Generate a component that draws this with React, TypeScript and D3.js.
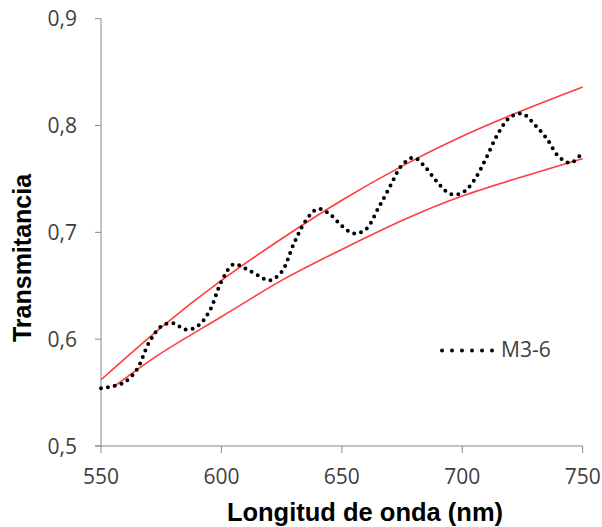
import * as d3 from "d3";

const wavelengths = [
  550, 555, 560, 565, 570, 575, 580, 585, 590, 595, 600, 605, 610, 615, 620,
  625, 630, 635, 640, 645, 650, 655, 660, 665, 670, 675, 680, 685, 690, 695,
  700, 705, 710, 715, 720, 725, 730, 735, 740, 745, 750,
];
const m36 = [
  0.554, 0.556, 0.56, 0.572, 0.597, 0.612, 0.615, 0.609, 0.612, 0.626, 0.654,
  0.67, 0.666, 0.66, 0.655, 0.663, 0.689, 0.711, 0.722, 0.717, 0.706, 0.699,
  0.703, 0.722, 0.743, 0.763, 0.77, 0.76, 0.746, 0.736, 0.737, 0.749, 0.77,
  0.793, 0.808, 0.811, 0.801, 0.788, 0.771, 0.765, 0.775,
];

// envelopes (red)
const upperWl = [550, 575, 600, 625, 650, 675, 700, 725, 750];
const upperT = [0.562, 0.611, 0.655, 0.694, 0.73, 0.762, 0.79, 0.814, 0.836];
const lowerWl = [555, 575, 600, 625, 650, 675, 700, 725, 750];
const lowerT = [0.555, 0.587, 0.621, 0.655, 0.684, 0.711, 0.734, 0.752, 0.769];

const xTicks = [550, 600, 650, 700, 750];
const yTicks = [0.5, 0.6, 0.7, 0.8, 0.9];
const seriesName = "M3-6";

const width = 602;
const height = 527;
const axisColor = "#898989";
const red = "#ff3d3d";
const labelFont = "'Open Sans', 'DejaVu Sans', sans-serif";

const App = () => {
  const x = d3.scaleLinear().domain([550, 750]).range([101, 582.7]);
  const y = d3.scaleLinear().domain([0.5, 0.9]).range([446, 18.7]);

  const line = d3
    .line<[number, number]>()
    .x((d) => x(d[0]))
    .y((d) => y(d[1]));

  const measured = line.curve(d3.curveCatmullRom.alpha(0.5))(
    wavelengths.map((w, i) => [w, m36[i]])
  );
  const upper = line.curve(d3.curveNatural)(
    upperWl.map((w, i) => [w, upperT[i]])
  );
  const lower = line.curve(d3.curveNatural)(
    lowerWl.map((w, i) => [w, lowerT[i]])
  );

  const fmt = (v: number) => v.toFixed(1).replace(".", ",");

  return (
    <svg
      width={width}
      height={height}
      style={{ position: "absolute", left: 0, top: 0, background: "#fff" }}
      fontFamily="'Liberation Sans', Arial, sans-serif"
    >
      {/* axes */}
      <line x1={x(550)} x2={x(550)} y1={y(0.9)} y2={y(0.5)} stroke={axisColor} />
      <line x1={x(550) - 6} x2={x(750)} y1={y(0.5)} y2={y(0.5)} stroke={axisColor} />
      {yTicks.map((t) => (
        <g key={t}>
          <line x1={x(550) - 6} x2={x(550)} y1={y(t)} y2={y(t)} stroke={axisColor} />
          <text
            x={77}
            y={y(t)}
            dy="0.36em"
            textAnchor="end"
            fontSize={21}
            fontFamily={labelFont}
            fill="#404040"
          >
            {fmt(t)}
          </text>
        </g>
      ))}
      {xTicks.map((t) => (
        <g key={t}>
          <line x1={x(t)} x2={x(t)} y1={y(0.5)} y2={y(0.5) + 7} stroke={axisColor} />
          <text
            x={x(t)}
            y={484}
            textAnchor="middle"
            fontSize={21}
            fontFamily={labelFont}
            fill="#404040"
          >
            {t}
          </text>
        </g>
      ))}

      {/* envelopes */}
      <path d={upper ?? ""} fill="none" stroke={red} strokeWidth={1.6} />
      <path d={lower ?? ""} fill="none" stroke={red} strokeWidth={1.6} />

      {/* measured */}
      <path
        d={measured ?? ""}
        fill="none"
        stroke="#000"
        strokeWidth={4}
        strokeLinecap="round"
        strokeDasharray="0 7"
      />

      {/* legend */}
      <line
        x1={442}
        x2={493}
        y1={350.5}
        y2={350.5}
        stroke="#000"
        strokeWidth={4}
        strokeLinecap="round"
        strokeDasharray="0 10"
      />
      <text
        x={501}
        y={357}
        fontSize={21}
        fontFamily={labelFont}
        fill="#404040"
      >
        {seriesName}
      </text>

      {/* titles */}
      <text
        x={365}
        y={521}
        textAnchor="middle"
        fontSize={25.5}
        fontWeight="bold"
        fill="#000"
      >
        Longitud de onda (nm)
      </text>
      <text
        transform={`translate(31, 258) rotate(-90)`}
        textAnchor="middle"
        fontSize={25}
        fontWeight="bold"
        fill="#000"
      >
        Transmitancia
      </text>
    </svg>
  );
};

export default App;
